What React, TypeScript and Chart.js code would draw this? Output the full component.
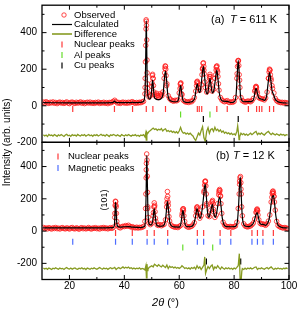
import { useEffect, useRef } from 'react';
import { Chart, registerables } from 'chart.js';

Chart.register(...registerables);

type Pair = [number, number];

// ---------------- Panel (a): T = 611 K ----------------
const calcA: Pair[] = [
  [10.4, 17], [20, 16], [30, 16], [35.8, 17], [36.4, 25], [37, 17], [42.5, 17], [43, 20], [43.5, 17], [46.5, 20],
  [47.2, 30], [47.5, 70], [47.7, 170], [47.85, 330], [48.0, 465], [48.15, 330], [48.3, 160], [48.5, 70], [48.8, 42],
  [49.3, 36], [49.7, 50], [50.0, 95], [50.3, 140], [50.6, 95], [50.9, 50], [51.4, 38], [52, 34], [52.8, 34], [53.6, 42],
  [54.2, 75], [54.6, 150], [55.0, 190], [55.4, 140], [55.8, 65], [56.3, 35], [57, 26], [58, 22], [59, 22], [59.7, 32],
  [60.1, 75], [60.5, 110], [60.9, 75], [61.3, 32], [62, 21], [63, 18], [64, 20], [65, 26], [65.7, 45], [66.2, 95],
  [66.6, 120], [67.0, 90], [67.3, 72], [67.7, 80], [68.3, 160], [68.8, 215], [69.3, 150], [69.8, 75], [70.3, 65],
  [70.8, 110], [71.2, 150], [71.6, 110], [72.1, 70], [72.7, 90], [73.3, 160], [73.7, 195], [74.1, 150], [74.6, 70],
  [75.2, 35], [76, 25], [77.5, 24], [79, 18], [80, 22], [80.7, 55], [81.1, 160], [81.5, 248], [81.9, 165], [82.3, 60],
  [82.8, 30], [83.5, 22], [85.2, 23], [86.5, 24], [87.2, 40], [87.6, 75], [88.0, 95], [88.4, 75], [88.9, 45], [89.5, 38],
  [90.2, 36], [91, 30], [91.8, 50], [92.4, 125], [92.9, 182], [93.3, 150], [93.8, 85], [94.4, 60], [95, 35], [96, 22],
  [97, 18], [98, 16], [99.5, 15],
];

const obsA: Pair[] = [
  [10.5, 20], [11, 15], [11.5, 22], [12, 17], [12.5, 13], [13, 19], [13.5, 16], [14, 21], [14.5, 14], [15, 18],
  [15.5, 12], [16, 17], [16.5, 20], [17, 15], [17.5, 18], [18, 13], [18.5, 17], [19, 21], [19.5, 15], [20, 12],
  [20.5, 18], [21, 20], [21.5, 16], [22, 13], [22.5, 19], [23, 15], [23.5, 17], [24, 21], [24.5, 14], [25, 18],
  [25.5, 12], [26, 16], [26.5, 19], [27, 15], [27.5, 20], [28, 14], [28.5, 17], [29, 13], [29.5, 18], [30, 16],
  [30.5, 20], [31, 13], [31.5, 17], [32, 15], [32.5, 19], [33, 14], [33.5, 17], [34, 12], [34.5, 18], [35, 16],
  [35.5, 20], [36, 24], [36.5, 30], [37, 22], [37.5, 15], [38, 18], [38.5, 13], [39, 17], [39.5, 20], [40, 15],
  [40.5, 18], [41, 14], [41.5, 19], [42, 16], [42.5, 20], [43, 22], [43.5, 17], [44, 14], [44.5, 18], [45, 15],
  [45.5, 19], [46, 17], [46.5, 21], [47, 24], [47.5, 65], [48, 462], [48.5, 95], [49, 48], [49.5, 55], [50, 105],
  [50.5, 150], [51, 62], [51.5, 50], [52, 58], [52.5, 45], [53, 52], [53.5, 60], [54, 75], [54.5, 150], [55, 215],
  [55.5, 120], [56, 55], [56.5, 40], [57, 32], [57.5, 28], [58, 25], [58.5, 30], [59, 27], [59.5, 32], [60, 70],
  [60.5, 122], [61, 60], [61.5, 30], [62, 24], [62.5, 20], [63, 22], [63.5, 18], [64, 24], [64.5, 22], [65, 30],
  [65.5, 45], [66, 80], [66.5, 130], [67, 100], [67.5, 85], [68, 115], [68.5, 200], [69, 195], [69.5, 100], [70, 75],
  [70.5, 85], [71, 160], [71.5, 140], [72, 80], [72.5, 90], [73, 150], [73.5, 210], [74, 185], [74.5, 85], [75, 45],
  [75.5, 32], [76, 26], [76.5, 22], [77, 25], [77.5, 28], [78, 20], [78.5, 18], [79, 22], [79.5, 19], [80, 24],
  [80.5, 45], [81, 150], [81.5, 245], [82, 140], [82.5, 45], [83, 28], [83.5, 24], [84, 20], [84.5, 22], [85, 26],
  [85.5, 24], [86, 22], [86.5, 28], [87, 40], [87.5, 80], [88, 104], [88.5, 70], [89, 45], [89.5, 40], [90, 38],
  [90.5, 36], [91, 32], [91.5, 42], [92, 75], [92.5, 150], [93, 195], [93.5, 140], [94, 95], [94.5, 70], [95, 40],
  [95.5, 28], [96, 22], [96.5, 20], [97, 17], [97.5, 19], [98, 15], [98.5, 18], [99, 16], [99.5, 14],
];

const obsPeakA: Pair[] = [
  [47.55, 100], [47.6, 150], [47.7, 240], [47.8, 330], [47.9, 420], [47.95, 470], [48.05, 440], [48.15, 360],
  [48.25, 250], [48.3, 180], [48.4, 120], [48.6, 70], [49.3, 60], [50.1, 125], [50.2, 165], [50.3, 172], [50.4, 150],
  [50.6, 110], [50.8, 75], [51.8, 68], [52.3, 55], [53, 65], [53.7, 55], [54.7, 180], [54.8, 205], [54.9, 218],
  [55.1, 200], [55.2, 165], [55.4, 110], [60.3, 95], [60.4, 118], [60.6, 125], [60.7, 100], [60.9, 65], [66.3, 110],
  [66.45, 128], [66.6, 134], [66.75, 120], [66.9, 100], [68.3, 170], [68.5, 205], [68.7, 232], [68.8, 235],
  [68.95, 215], [69.1, 175], [69.3, 130], [70.9, 120], [71.05, 150], [71.2, 172], [71.35, 160], [71.6, 115],
  [73.3, 170], [73.45, 195], [73.6, 215], [73.75, 218], [73.9, 195], [74.1, 160], [74.3, 120], [81.1, 175],
  [81.25, 215], [81.4, 245], [81.55, 248], [81.7, 220], [81.85, 170], [82.1, 100], [87.7, 85], [87.85, 100],
  [88, 106], [88.15, 98], [88.3, 80], [92.6, 150], [92.75, 185], [92.9, 200], [93.05, 195], [93.2, 170],
  [93.4, 150], [93.8, 110],
];

const diffA: Pair[] = [
  [10.5, -158], [11, -165], [11.5, -160], [12, -168], [12.5, -157], [13, -163], [13.5, -160], [14, -166], [14.5, -158],
  [15, -162], [15.5, -167], [16, -159], [16.5, -164], [17, -157], [17.5, -163], [18, -168], [18.5, -160], [19, -156],
  [19.5, -164], [20, -161], [20.5, -167], [21, -158], [21.5, -163], [22, -160], [22.5, -166], [23, -157], [23.5, -162],
  [24, -165], [24.5, -159], [25, -163], [25.5, -158], [26, -166], [26.5, -161], [27, -157], [27.5, -164], [28, -160],
  [28.5, -167], [29, -159], [29.5, -163], [30, -158], [30.5, -165], [31, -161], [31.5, -156], [32, -163], [32.5, -160],
  [33, -166], [33.5, -158], [34, -162], [34.5, -168], [35, -159], [35.5, -163], [36, -157], [36.5, -160], [37, -165],
  [37.5, -159], [38, -163], [38.5, -167], [39, -158], [39.5, -162], [40, -165], [40.5, -159], [41, -164], [41.5, -157],
  [42, -162], [42.5, -166], [43, -160], [43.5, -163], [44, -158], [44.5, -165], [45, -161], [45.5, -167], [46, -160],
  [46.5, -163], [47, -158], [47.5, -170], [47.8, -150], [48, -188], [48.2, -145], [48.5, -152], [49, -140],
  [49.5, -135], [50, -128], [50.5, -122], [51, -130], [51.5, -126], [52, -134], [52.5, -128], [53, -132], [53.5, -125],
  [54, -138], [54.5, -130], [55, -126], [55.5, -140], [56, -135], [56.5, -142], [57, -137], [57.5, -145], [58, -140],
  [58.5, -148], [59, -142], [59.5, -150], [60, -138], [60.5, -118], [61, -140], [61.5, -150], [62, -146], [62.5, -155],
  [63, -149], [63.5, -156], [64, -150], [64.5, -158], [65, -165], [65.5, -180], [66, -190], [66.5, -170], [67, -150],
  [67.5, -160], [68, -135], [68.5, -115], [69, -175], [69.5, -195], [70, -140], [70.5, -120], [71, -150], [71.5, -130],
  [72, -125], [72.5, -140], [73, -118], [73.5, -135], [74, -128], [74.5, -140], [75, -132], [75.5, -145], [76, -138],
  [76.5, -150], [77, -144], [77.5, -152], [78, -148], [78.5, -156], [79, -150], [79.5, -158], [80, -153], [80.5, -160],
  [81, -140], [81.3, -110], [81.6, -150], [81.8, -185], [82, -170], [82.5, -150], [83, -158], [83.5, -152], [84, -160],
  [84.5, -155], [85, -162], [85.5, -156], [86, -150], [86.5, -158], [87, -152], [87.5, -145], [88, -140], [88.5, -158],
  [89, -150], [89.5, -156], [90, -148], [90.5, -155], [91, -160], [91.5, -152], [92, -145], [92.5, -140], [93, -150],
  [93.5, -158], [94, -150], [94.5, -155], [95, -160], [95.5, -153], [96, -158], [96.5, -162], [97, -155], [97.5, -160],
  [98, -157], [98.5, -163], [99, -158], [99.5, -161],
];

const nuclearA = [21.2, 36.4, 43.0, 48.0, 50.4, 55.0, 66.6, 67.3, 68.2, 73.7, 77.5, 85.2, 88.2, 89.2, 90.1, 92.9, 94.4];
const alA = [60.5, 71.2];
const cuA = [68.8, 81.5];

// ---------------- Panel (b): T = 12 K ----------------
const calcB: Pair[] = [
  [10.4, 20], [20, 20], [30, 20], [36, 22], [36.4, 40], [36.6, 110], [36.8, 180], [37.0, 130], [37.2, 60], [37.5, 30],
  [38.5, 24], [40, 27], [41.5, 28], [43, 25], [46, 22], [47.4, 30], [47.7, 80], [47.9, 200], [48.05, 360], [48.2, 470],
  [48.35, 340], [48.55, 160], [48.8, 65], [49.2, 40], [49.8, 38], [50.3, 60], [50.6, 100], [50.9, 140], [51.2, 100],
  [51.6, 48], [52.2, 32], [53.2, 30], [54.2, 33], [54.9, 60], [55.3, 120], [55.7, 185], [56.1, 130], [56.5, 60],
  [57, 36], [58, 26], [60, 25], [60.6, 45], [61.0, 95], [61.35, 128], [61.7, 95], [62.1, 45], [62.8, 28], [64, 27],
  [65.2, 40], [65.9, 85], [66.5, 140], [67.0, 105], [67.5, 78], [68.1, 105], [68.8, 200], [69.2, 270], [69.5, 290],
  [69.9, 210], [70.3, 120], [70.8, 85], [71.4, 120], [72.1, 165], [72.6, 110], [73.2, 85], [73.9, 140], [74.4, 195],
  [74.8, 210], [75.2, 160], [75.7, 80], [76.3, 40], [77.2, 28], [78.8, 27], [80.3, 28], [81.2, 60], [81.7, 180],
  [82.0, 290], [82.25, 335], [82.5, 260], [82.9, 110], [83.4, 45], [84.2, 30], [85.5, 28], [86.5, 38], [87.3, 60],
  [87.9, 100], [88.4, 115], [88.8, 90], [89.3, 52], [90, 42], [90.6, 42], [91.4, 36], [92.2, 48], [92.9, 85],
  [93.5, 170], [94.0, 215], [94.3, 220], [94.7, 180], [95.2, 95], [95.8, 45], [96.6, 28], [97.6, 22], [99.5, 20],
];

const obsB: Pair[] = [
  [10.5, 22], [11, 16], [11.5, 19], [12, 14], [12.5, 21], [13, 17], [13.5, 13], [14, 20], [14.5, 16], [15, 22],
  [15.5, 15], [16, 18], [16.5, 13], [17, 19], [17.5, 21], [18, 16], [18.5, 14], [19, 20], [19.5, 17], [20, 13],
  [20.5, 19], [21, 22], [21.5, 16], [22, 14], [22.5, 20], [23, 17], [23.5, 12], [24, 18], [24.5, 21], [25, 15],
  [25.5, 19], [26, 14], [26.5, 17], [27, 22], [27.5, 16], [28, 13], [28.5, 19], [29, 17], [29.5, 21], [30, 15],
  [30.5, 18], [31, 13], [31.5, 20], [32, 17], [32.5, 22], [33, 16], [33.5, 19], [34, 14], [34.5, 18], [35, 21],
  [35.5, 17], [36, 24], [36.5, 85], [37, 150], [37.5, 35], [38, 24], [38.5, 20], [39, 26], [39.5, 30], [40, 28],
  [40.5, 34], [41, 30], [41.5, 36], [42, 29], [42.5, 25], [43, 27], [43.5, 22], [44, 20], [44.5, 24], [45, 19],
  [45.5, 23], [46, 21], [46.5, 25], [47, 28], [47.5, 60], [48, 380], [48.5, 140], [49, 50], [49.5, 40], [50, 48],
  [50.5, 95], [51, 150], [51.5, 60], [52, 38], [52.5, 35], [53, 40], [53.5, 33], [54, 38], [54.5, 42], [55, 70],
  [55.5, 175], [56, 160], [56.5, 62], [57, 38], [57.5, 30], [58, 27], [58.5, 24], [59, 26], [59.5, 22], [60, 28],
  [60.5, 35], [61, 95], [61.5, 138], [62, 60], [62.5, 32], [63, 26], [63.5, 24], [64, 27], [64.5, 30], [65, 38],
  [65.5, 52], [66, 95], [66.5, 150], [67, 110], [67.5, 80], [68, 95], [68.5, 150], [69, 240], [69.5, 305], [70, 170],
  [70.5, 95], [71, 90], [71.5, 130], [72, 180], [72.5, 120], [73, 85], [73.5, 100], [74, 170], [74.5, 240], [75, 215],
  [75.5, 110], [76, 55], [76.5, 38], [77, 30], [77.5, 27], [78, 25], [78.5, 29], [79, 27], [79.5, 24], [80, 28],
  [80.5, 32], [81, 55], [81.5, 140], [82, 310], [82.5, 260], [83, 95], [83.5, 45], [84, 32], [84.5, 28], [85, 26],
  [85.5, 30], [86, 32], [86.5, 40], [87, 50], [87.5, 75], [88, 115], [88.5, 130], [89, 70], [89.5, 48], [90, 42],
  [90.5, 45], [91, 40], [91.5, 36], [92, 45], [92.5, 62], [93, 100], [93.5, 180], [94, 235], [94.5, 215], [95, 130],
  [95.5, 60], [96, 35], [96.5, 28], [97, 24], [97.5, 21], [98, 19], [98.5, 22], [99, 18], [99.5, 16],
];

const obsPeakB: Pair[] = [
  [36.55, 110], [36.65, 160], [36.75, 185], [36.85, 182], [36.95, 160], [37.1, 110], [37.25, 60],
  [47.75, 140], [47.85, 230], [47.95, 330], [48.05, 420], [48.15, 478], [48.25, 440], [48.35, 340], [48.45, 240],
  [48.55, 150], [48.7, 85], [50.6, 115], [50.75, 150], [50.9, 175], [51.05, 160], [51.2, 120], [51.35, 80],
  [55.4, 150], [55.55, 200], [55.7, 245], [55.8, 215], [55.95, 180], [56.1, 130], [56.25, 90],
  [61.1, 110], [61.25, 132], [61.4, 138], [61.55, 125], [61.7, 95], [66.25, 120], [66.4, 142], [66.55, 148],
  [66.7, 135], [66.85, 115], [69.1, 250], [69.25, 285], [69.4, 308], [69.55, 310], [69.7, 280], [69.85, 230],
  [70.05, 160], [71.85, 160], [72.0, 182], [72.15, 190], [72.3, 170], [72.45, 135], [74.4, 225], [74.55, 250],
  [74.7, 258], [74.85, 250], [75.0, 220], [75.2, 170], [81.85, 230], [82.0, 290], [82.15, 330], [82.3, 338],
  [82.45, 300], [82.6, 230], [82.75, 150], [88.1, 120], [88.25, 132], [88.4, 137], [88.55, 125], [88.7, 100],
  [93.75, 210], [93.9, 235], [94.05, 245], [94.2, 248], [94.35, 235], [94.5, 215], [94.7, 180],
];

const diffB: Pair[] = [
  [10.5, -228], [11, -235], [11.5, -230], [12, -237], [12.5, -229], [13, -233], [13.5, -238], [14, -230], [14.5, -234],
  [15, -227], [15.5, -233], [16, -236], [16.5, -229], [17, -234], [17.5, -231], [18, -238], [18.5, -230], [19, -226],
  [19.5, -233], [20, -235], [20.5, -229], [21, -236], [21.5, -231], [22, -228], [22.5, -234], [23, -237], [23.5, -230],
  [24, -233], [24.5, -227], [25, -235], [25.5, -231], [26, -238], [26.5, -229], [27, -233], [27.5, -236], [28, -230],
  [28.5, -234], [29, -228], [29.5, -233], [30, -237], [30.5, -231], [31, -226], [31.5, -232], [32, -236], [32.5, -229],
  [33, -234], [33.5, -230], [34, -237], [34.5, -231], [35, -227], [35.5, -233], [36, -230], [36.5, -225], [37, -238],
  [37.5, -230], [38, -226], [38.5, -233], [39, -228], [39.5, -222], [40, -230], [40.5, -224], [41, -229], [41.5, -223],
  [42, -231], [42.5, -227], [43, -234], [43.5, -229], [44, -235], [44.5, -230], [45, -233], [45.5, -228], [46, -236],
  [46.5, -231], [47, -234], [47.5, -240], [47.85, -215], [48.05, -290], [48.25, -205], [48.45, -245], [48.6, -238],
  [49, -225], [49.5, -220], [50, -215], [50.5, -222], [51, -205], [51.5, -212], [52, -218], [52.5, -208], [53, -216],
  [53.5, -222], [54, -212], [54.5, -220], [55, -226], [55.5, -210], [56, -232], [56.5, -218], [57, -225], [57.5, -221],
  [58, -228], [58.5, -223], [59, -230], [59.5, -225], [60, -231], [60.5, -226], [61, -215], [61.5, -222], [62, -232],
  [62.5, -227], [63, -233], [63.5, -228], [64, -235], [64.5, -226], [65, -232], [65.5, -224], [66, -236], [66.5, -215],
  [67, -230], [67.5, -222], [68, -238], [68.5, -225], [69, -210], [69.3, -160], [69.6, -262], [70, -240], [70.5, -220],
  [71, -232], [71.5, -218], [72, -210], [72.5, -238], [73, -222], [73.5, -230], [74, -214], [74.5, -226], [75, -236],
  [75.5, -222], [76, -230], [76.5, -236], [77, -228], [77.5, -233], [78, -227], [78.5, -235], [79, -230], [79.5, -237],
  [80, -229], [80.5, -234], [81, -225], [81.5, -215], [81.9, -140], [82.2, -300], [82.5, -320], [82.8, -250],
  [83, -232], [83.5, -238], [84, -230], [84.5, -236], [85, -229], [85.5, -234], [86, -228], [86.5, -235], [87, -230],
  [87.5, -224], [88, -222], [88.5, -238], [89, -230], [89.5, -234], [90, -228], [90.5, -233], [91, -237], [91.5, -230],
  [92, -226], [92.5, -234], [93, -228], [93.5, -222], [94, -232], [94.5, -238], [95, -230], [95.5, -235], [96, -229],
  [96.5, -234], [97, -231], [97.5, -236], [98, -230], [98.5, -233], [99, -229], [99.5, -232],
];

const nuclearB = [36.8, 42.9, 48.3, 50.9, 55.8, 66.6, 68.9, 74.9, 78.8, 86.5, 88.5, 90.5, 94.3];
const magneticB = [21.2, 36.8, 42.9, 48.3, 50.9, 55.8, 66.6, 68.9, 74.9, 78.8, 86.5, 88.5, 90.5, 94.3];
const alB = [61.3, 72.2];
const cuB = [69.9, 82.4];

// ---------------- Axes ----------------
const xMajor = [20, 40, 60, 80, 100];
const xMinor = [30, 50, 70, 90];
const yMajorA = [-200, 0, 200, 400];
const yMinorA = [-100, 100, 300, 500];
const yMajorB = [-200, 0, 200, 400];
const yMinorB = [-100, 100, 300, 500];

// ---------------- Styles ----------------
const FONT = '"Liberation Sans", Arial, Helvetica, sans-serif';
const RED = '#ff1a1a';
const OLIVE = '#879b22';
const GREEN = '#66dd2a';
const BLUE = '#4d6dff';
const NUC_RED = '#ff3838';

// row offsets of the reflection markers (in axis units)
const ROW_A = { nuc: -17, al: -48, cu: -72 };
const ROW_B = { nuc: -12, mag: -66, al: -102, cu: -188 };

const toXY = (arr: Pair[]) => arr.map(([x, y]) => ({ x, y }));
const sorted = (arr: Pair[]) => [...arr].sort((a, b) => a[0] - b[0]);
const marks = (xs: number[], y: number) => xs.map((x) => ({ x, y }));

function drawParts(
  ctx: CanvasRenderingContext2D,
  parts: { t: string; i?: boolean }[],
  x: number,
  y: number,
  size: number,
  align: 'left' | 'center'
) {
  let total = 0;
  const widths: number[] = [];
  for (const p of parts) {
    ctx.font = `${p.i ? 'italic ' : ''}${size}px ${FONT}`;
    const w = ctx.measureText(p.t).width;
    widths.push(w);
    total += w;
  }
  let cx = align === 'center' ? x - total / 2 : x;
  ctx.textAlign = 'left';
  parts.forEach((p, k) => {
    ctx.font = `${p.i ? 'italic ' : ''}${size}px ${FONT}`;
    ctx.fillText(p.t, cx, y);
    cx += widths[k];
  });
}

const framePlugin = {
  id: 'frame',
  afterDraw(chart: any) {
    const ctx: CanvasRenderingContext2D = chart.ctx;
    const xs = chart.scales.x;
    const panels = [
      { s: chart.scales.yA, major: yMajorA, minor: yMinorA },
      { s: chart.scales.yB, major: yMajorB, minor: yMinorB },
    ];
    const L = chart.chartArea.left;
    const R = chart.chartArea.right;
    ctx.save();
    ctx.strokeStyle = '#000';
    ctx.lineWidth = 1;
    const tick = (x1: number, y1: number, x2: number, y2: number) => {
      ctx.beginPath();
      ctx.moveTo(x1, y1);
      ctx.lineTo(x2, y2);
      ctx.stroke();
    };
    for (const p of panels) {
      const top = p.s.top;
      const bot = p.s.bottom;
      for (const v of xMajor) {
        const px = xs.getPixelForValue(v);
        tick(px, top, px, top + 4.5);
        tick(px, bot, px, bot - 4.5);
      }
      for (const v of xMinor) {
        const px = xs.getPixelForValue(v);
        tick(px, top, px, top + 2.5);
        tick(px, bot, px, bot - 2.5);
      }
      for (const v of p.major) {
        const py = p.s.getPixelForValue(v);
        tick(L, py, L + 4.5, py);
        tick(R, py, R - 4.5, py);
      }
      for (const v of p.minor) {
        const py = p.s.getPixelForValue(v);
        tick(L, py, L + 2.5, py);
        tick(R, py, R - 2.5, py);
      }
    }
    ctx.lineWidth = 1.3;
    for (const p of panels) {
      ctx.strokeRect(L, p.s.top, R - L, p.s.bottom - p.s.top);
    }

    ctx.fillStyle = '#000';
    ctx.textBaseline = 'middle';

    // legend (a)
    const lf = 9.5;
    ctx.strokeStyle = RED;
    ctx.lineWidth = 0.8;
    ctx.beginPath();
    ctx.arc(64, 15, 2.2, 0, Math.PI * 2);
    ctx.stroke();
    ctx.strokeStyle = '#000';
    ctx.lineWidth = 1.2;
    tick(52, 24.5, 72, 24.5);
    ctx.strokeStyle = OLIVE;
    ctx.lineWidth = 1.6;
    tick(52, 34, 72, 34);
    ctx.lineWidth = 1.2;
    ctx.strokeStyle = NUC_RED;
    tick(62, 41.5, 62, 47.5);
    ctx.strokeStyle = GREEN;
    tick(62, 52, 62, 58);
    ctx.strokeStyle = '#000';
    tick(62, 62.5, 62, 68.5);
    const legA = ['Observed', 'Calculated', 'Difference', 'Nuclear peaks', 'Al peaks', 'Cu peaks'];
    const legAy = [15, 24.5, 34, 44.5, 55, 65.5];
    ctx.font = `${lf}px ${FONT}`;
    ctx.textAlign = 'left';
    legA.forEach((t, k) => ctx.fillText(t, 74, legAy[k]));

    // legend (b)
    ctx.strokeStyle = NUC_RED;
    tick(58, 153.5, 58, 159.5);
    ctx.strokeStyle = BLUE;
    tick(58, 165, 58, 171);
    ctx.fillText('Nuclear peaks', 68, 156.5);
    ctx.fillText('Magnetic peaks', 68, 168);

    // panel labels
    drawParts(ctx, [{ t: '(a)' }], 211, 20, 11, 'left');
    drawParts(ctx, [{ t: 'T', i: true }, { t: ' = 611 K' }], 230, 20, 11, 'left');
    drawParts(ctx, [{ t: '(b)' }], 216, 155.5, 11, 'left');
    drawParts(ctx, [{ t: 'T', i: true }, { t: ' = 12 K' }], 233, 155.5, 11, 'left');

    // (101) label
    ctx.save();
    ctx.translate(105, 200);
    ctx.rotate(-Math.PI / 2);
    ctx.textAlign = 'center';
    ctx.font = `9px ${FONT}`;
    ctx.fillText('(101)', 0, 0);
    ctx.restore();

    // y title
    ctx.save();
    ctx.translate(7.5, (chart.chartArea.top + chart.chartArea.bottom) / 2);
    ctx.rotate(-Math.PI / 2);
    ctx.textAlign = 'center';
    ctx.font = `10px ${FONT}`;
    ctx.fillText('Intensity (arb. units)', 0, 0);
    ctx.restore();

    // x title
    drawParts(ctx, [{ t: '2θ', i: true }, { t: ' (°)' }], (L + R) / 2, 303, 11, 'center');
    ctx.restore();
  },
};

export default function App() {
  const ref = useRef<HTMLCanvasElement | null>(null);

  useEffect(() => {
    if (!ref.current) return;
    const tickFont = { family: FONT, size: 10 };
    const peakStyle = (color: string) => ({
      showLine: false,
      pointStyle: 'line' as const,
      rotation: 90,
      pointRadius: 3,
      pointBorderWidth: 1.2,
      borderColor: color,
      backgroundColor: color,
      pointBorderColor: color,
    });
    const fitY = (s: any) => {
      s.width = 42;
      s.paddingTop = 0;
      s.paddingBottom = 0;
    };
    const chart = new Chart(ref.current, {
      type: 'line',
      data: {
        datasets: [
          {
            label: 'Calculated (a)', data: toXY(calcA), yAxisID: 'yA', borderColor: '#000', borderWidth: 1.2,
            pointRadius: 0, cubicInterpolationMode: 'monotone', order: 0,
          } as any,
          {
            label: 'Calculated (b)', data: toXY(calcB), yAxisID: 'yB', borderColor: '#000', borderWidth: 1.2,
            pointRadius: 0, cubicInterpolationMode: 'monotone', order: 0,
          } as any,
          {
            label: 'Observed (a)', data: toXY([...obsA, ...obsPeakA]), yAxisID: 'yA', showLine: false,
            pointRadius: 2.3, pointBorderWidth: 0.8, pointBorderColor: RED, pointBackgroundColor: 'rgba(0,0,0,0)',
            borderColor: RED, order: 1,
          } as any,
          {
            label: 'Observed (b)', data: toXY([...obsB, ...obsPeakB]), yAxisID: 'yB', showLine: false,
            pointRadius: 2.3, pointBorderWidth: 0.8, pointBorderColor: RED, pointBackgroundColor: 'rgba(0,0,0,0)',
            borderColor: RED, order: 1,
          } as any,
          {
            label: 'Difference (a)', data: toXY(sorted(diffA)), yAxisID: 'yA', borderColor: OLIVE, borderWidth: 1.3,
            pointRadius: 0, tension: 0, order: 2,
          } as any,
          {
            label: 'Difference (b)', data: toXY(sorted(diffB)), yAxisID: 'yB', borderColor: OLIVE, borderWidth: 1.3,
            pointRadius: 0, tension: 0, order: 2,
          } as any,
          { label: 'Nuclear (a)', data: marks(nuclearA, ROW_A.nuc), yAxisID: 'yA', order: 3, ...peakStyle(NUC_RED) } as any,
          { label: 'Al (a)', data: marks(alA, ROW_A.al), yAxisID: 'yA', order: 3, ...peakStyle(GREEN) } as any,
          { label: 'Cu (a)', data: marks(cuA, ROW_A.cu), yAxisID: 'yA', order: 3, ...peakStyle('#000') } as any,
          { label: 'Nuclear (b)', data: marks(nuclearB, ROW_B.nuc), yAxisID: 'yB', order: 3, ...peakStyle(NUC_RED) } as any,
          { label: 'Magnetic (b)', data: marks(magneticB, ROW_B.mag), yAxisID: 'yB', order: 3, ...peakStyle(BLUE) } as any,
          { label: 'Al (b)', data: marks(alB, ROW_B.al), yAxisID: 'yB', order: 3, ...peakStyle(GREEN) } as any,
          { label: 'Cu (b)', data: marks(cuB, ROW_B.cu), yAxisID: 'yB', order: 3, ...peakStyle('#000') } as any,
        ],
      },
      options: {
        animation: false,
        responsive: false,
        events: [],
        layout: { padding: { left: 0, right: 10, top: 1, bottom: 0 } },
        plugins: { legend: { display: false }, tooltip: { enabled: false } },
        scales: {
          x: {
            type: 'linear',
            position: 'bottom',
            min: 10,
            max: 100,
            grid: { display: false, drawTicks: false },
            border: { display: false },
            afterBuildTicks: (s: any) => { s.ticks = xMajor.map((v) => ({ value: v })); },
            afterFit: (s: any) => { s.height = 32.5; s.paddingLeft = 0; s.paddingRight = 0; },
            ticks: { font: tickFont, color: '#000', padding: 1, maxRotation: 0, autoSkip: false },
          },
          // left boxes are laid out in reverse order: yB listed first ends up at the bottom
          yB: {
            type: 'linear',
            position: 'left',
            stack: 'panels',
            stackWeight: 1,
            min: -300,
            max: 550,
            grid: { display: false, drawTicks: false },
            border: { display: false },
            afterBuildTicks: (s: any) => { s.ticks = yMajorB.map((v) => ({ value: v })); },
            afterFit: fitY,
            ticks: { font: tickFont, color: '#000', padding: 5, autoSkip: false },
          },
          yA: {
            type: 'linear',
            position: 'left',
            stack: 'panels',
            stackWeight: 1,
            min: -200,
            max: 550,
            grid: { display: false, drawTicks: false },
            border: { display: false },
            afterBuildTicks: (s: any) => { s.ticks = yMajorA.map((v) => ({ value: v })); },
            afterFit: fitY,
            ticks: { font: tickFont, color: '#000', padding: 5, autoSkip: false },
          },
        },
      } as any,
      plugins: [framePlugin],
    });
    return () => chart.destroy();
  }, []);

  return (
    <div style={{ position: 'fixed', left: 0, top: 0, width: 299, height: 312, background: '#fff' }}>
      <canvas ref={ref} width={299} height={312} style={{ width: 299, height: 312, display: 'block' }} />
    </div>
  );
}
